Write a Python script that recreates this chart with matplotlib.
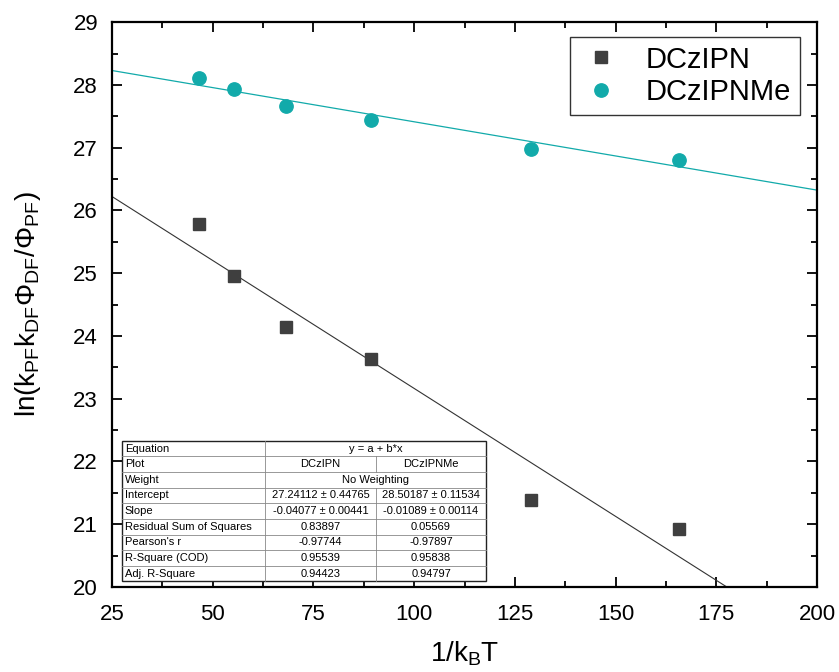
import matplotlib
matplotlib.use("Agg")
import matplotlib.pyplot as plt
import numpy as np
from matplotlib.ticker import MultipleLocator
from matplotlib.patches import Rectangle

plt.rcParams['font.family'] = ['Liberation Sans', 'DejaVu Sans']
plt.rcParams['mathtext.fontset'] = 'custom'
plt.rcParams['mathtext.rm'] = 'Liberation Sans'
plt.rcParams['mathtext.it'] = 'Liberation Sans'

# ---- data ----
x_dczipn = [46.6, 55.3, 68.3, 89.4, 128.9, 165.7]
y_dczipn = [25.78, 24.96, 24.14, 23.63, 21.38, 20.92]
x_dczipnme = [46.6, 55.3, 68.3, 89.4, 128.9, 165.7]
y_dczipnme = [28.11, 27.94, 27.67, 27.44, 26.98, 26.81]

fit_intercept = [27.24112, 28.50187]
fit_slope = [-0.04077, -0.01089]

series_names = ["DCzIPN", "DCzIPNMe"]

table_labels = ["Equation", "Plot", "Weight", "Intercept", "Slope",
                "Residual Sum of Squares", "Pearson's r", "R-Square (COD)", "Adj. R-Square"]
table_col1 = ["y = a + b*x", "DCzIPN", "No Weighting", "27.24112 \u00b1 0.44765",
              "-0.04077 \u00b1 0.00441", "0.83897", "-0.97744", "0.95539", "0.94423"]
table_col2 = [None, "DCzIPNMe", None, "28.50187 \u00b1 0.11534",
              "-0.01089 \u00b1 0.00114", "0.05569", "-0.97897", "0.95838", "0.94797"]

# ---- figure ----
fig = plt.figure(figsize=(8.39, 6.72), dpi=100)
ax = fig.add_axes([0.1335, 0.1265, 0.8403, 0.8405])

c_sq = '#3f3f3f'
c_ci = '#12aaaa'

xx = np.linspace(25, 200, 200)
ax.plot(xx, fit_intercept[0] + fit_slope[0] * xx, color='#333333', lw=0.8, zorder=2)
ax.plot(xx, fit_intercept[1] + fit_slope[1] * xx, color=c_ci, lw=0.9, zorder=2)

ax.plot(x_dczipn, y_dczipn, 's', color=c_sq, ms=8.6, mec=c_sq, ls='none',
        label=series_names[0], zorder=3)
ax.plot(x_dczipnme, y_dczipnme, 'o', color=c_ci, ms=9.6, mec=c_ci, ls='none',
        label=series_names[1], zorder=3)

ax.set_xlim(25, 200)
ax.set_ylim(20, 29)
ax.xaxis.set_major_locator(MultipleLocator(25))
ax.xaxis.set_minor_locator(MultipleLocator(12.5))
ax.yaxis.set_major_locator(MultipleLocator(1))
ax.yaxis.set_minor_locator(MultipleLocator(0.5))
ax.tick_params(which='both', direction='in', top=True, right=True, width=1.3)
ax.tick_params(which='major', length=7, labelsize=16)
ax.tick_params(axis='x', which='major', pad=12)
ax.tick_params(axis='y', which='major', pad=10)
ax.tick_params(which='minor', length=4)
for s in ax.spines.values():
    s.set_linewidth(1.6)

ax.set_xlabel(r'1/k$_\mathrm{B}$T', fontsize=20, labelpad=11)
ax.set_ylabel(r'ln(k$_\mathrm{PF}$k$_\mathrm{DF}$$\Phi_\mathrm{DF}$/$\Phi_\mathrm{PF}$)',
              fontsize=20, labelpad=22)

leg = ax.legend(loc='upper right', bbox_to_anchor=(0.976, 0.974), fontsize=21,
                frameon=True, fancybox=False, edgecolor='black', borderpad=0.3,
                handletextpad=0.8, handlelength=1.5, labelspacing=0.15, borderaxespad=0)
leg.get_frame().set_linewidth(1.0)

# ---- table (axes fraction coords) ----
tx0, tx1, tx2, tx3 = 0.0142, 0.2170, 0.3745, 0.5305
ty_top, ty_bot = 0.2588, 0.0099
nrows = len(table_labels)
rh = (ty_top - ty_bot) / nrows
tkw = dict(transform=ax.transAxes, fontsize=8, va='center', zorder=6)
ax.add_patch(Rectangle((tx0, ty_bot), tx3 - tx0, ty_top - ty_bot, transform=ax.transAxes,
                       facecolor='white', edgecolor='#222222', lw=1.0, zorder=5))
for i in range(1, nrows):
    yy = ty_top - i * rh
    ax.plot([tx0, tx3], [yy, yy], transform=ax.transAxes, color='#888888', lw=0.6, zorder=6)
ax.plot([tx1, tx1], [ty_bot, ty_top], transform=ax.transAxes, color='#888888', lw=0.6, zorder=6)
for i in range(nrows):
    y0 = ty_top - (i + 1) * rh
    yc = y0 + rh / 2
    if table_col2[i] is not None:
        ax.plot([tx2, tx2], [y0, y0 + rh], transform=ax.transAxes, color='#888888', lw=0.6, zorder=6)
    ax.text(tx0 + 0.004, yc, table_labels[i], ha='left', **tkw)
    if table_col2[i] is None:
        ax.text((tx1 + tx3) / 2, yc, table_col1[i], ha='center', **tkw)
    else:
        ax.text((tx1 + tx2) / 2, yc, table_col1[i], ha='center', **tkw)
        ax.text((tx2 + tx3) / 2, yc, table_col2[i], ha='center', **tkw)

fig.savefig('out.png', dpi=100)
